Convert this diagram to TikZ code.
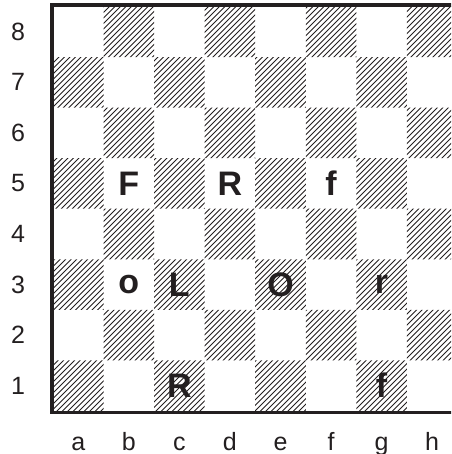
\documentclass[tikz,border=0pt]{standalone}
\usepackage{fontspec}
\setmainfont{Liberation Sans}
\definecolor{ink}{HTML}{231F20}
\tikzset{
  lbl/.style={font=\fontsize{25}{25}\selectfont, text=ink, inner sep=0pt},
  piece/.style={font=\fontsize{34}{34}\selectfont\bfseries, text=ink, inner sep=0pt},
  hatchline/.style={line width=0.75pt, draw=ink},
  framethick/.style={draw=ink, line width=3.5pt},
  framethin/.style={draw=ink, line width=2.5pt}
}
\begin{document}
\begin{tikzpicture}[x=1pt,y=-1pt]
\useasboundingbox (0,0) rectangle (451,454);
\begin{scope}
\clip (0,0) rectangle (451,454);
% square centres
\foreach \f [count=\i from 0] in {a,b,c,d,e,f,g,h}{
  \foreach \r in {1,...,8}{
    \coordinate (\f\r) at ({53+(\i+0.5)*50.55},{6.5+(8.5-\r)*50.55});
  }
}
% hatched dark squares
\begin{scope}
\clip \foreach \j in {0,...,7}{ \foreach \i in {0,2,4,6}{
   ({53+(\i+mod(\j,2))*50.55},{6.5+(7-\j)*50.55}) rectangle ++(50.55,50.55) } };
\foreach \k in {-480,-474.5,...,480}{
  \draw[hatchline] (\k,420) -- ({\k+420},0);
}
\end{scope}
% frame
\coordinate (tl) at (52,5);
\coordinate (tr) at (460,5);
\coordinate (bl) at (52,412.5);
\coordinate (br) at (460,412.5);
\coordinate (ltop) at (52,3.25);
\coordinate (lbot) at (52,413.75);
\draw[framethick] (tl) -- (tr);
\draw[framethin] (bl) -- (br);
\draw[framethick] (ltop) -- (lbot);
\end{scope}
% rank labels
\foreach \r in {1,...,8}{
  \node[lbl] (rank\r) at (18,{6.5+(8.5-\r)*50.55}) {\r};
}
% file labels
\foreach \f [count=\i from 0] in {a,b,c,d,e,f,g,h}{
  \node[lbl, anchor=base] (file\f) at ({53+(\i+0.5)*50.55},450) {\f};
}
% pieces
\node[piece] (pb5) at (b5) {F};
\node[piece] (pd5) at (d5) {R};
\node[piece] (pf5) at (f5) {f};
\node[piece] (pb3) at (b3) {o};
\node[piece] (pc3) at (c3) {L};
\node[piece] (pe3) at (e3) {O};
\node[piece] (pg3) at (g3) {r};
\node[piece] (pc1) at (c1) {R};
\node[piece] (pg1) at (g1) {f};
\end{tikzpicture}
\end{document}
